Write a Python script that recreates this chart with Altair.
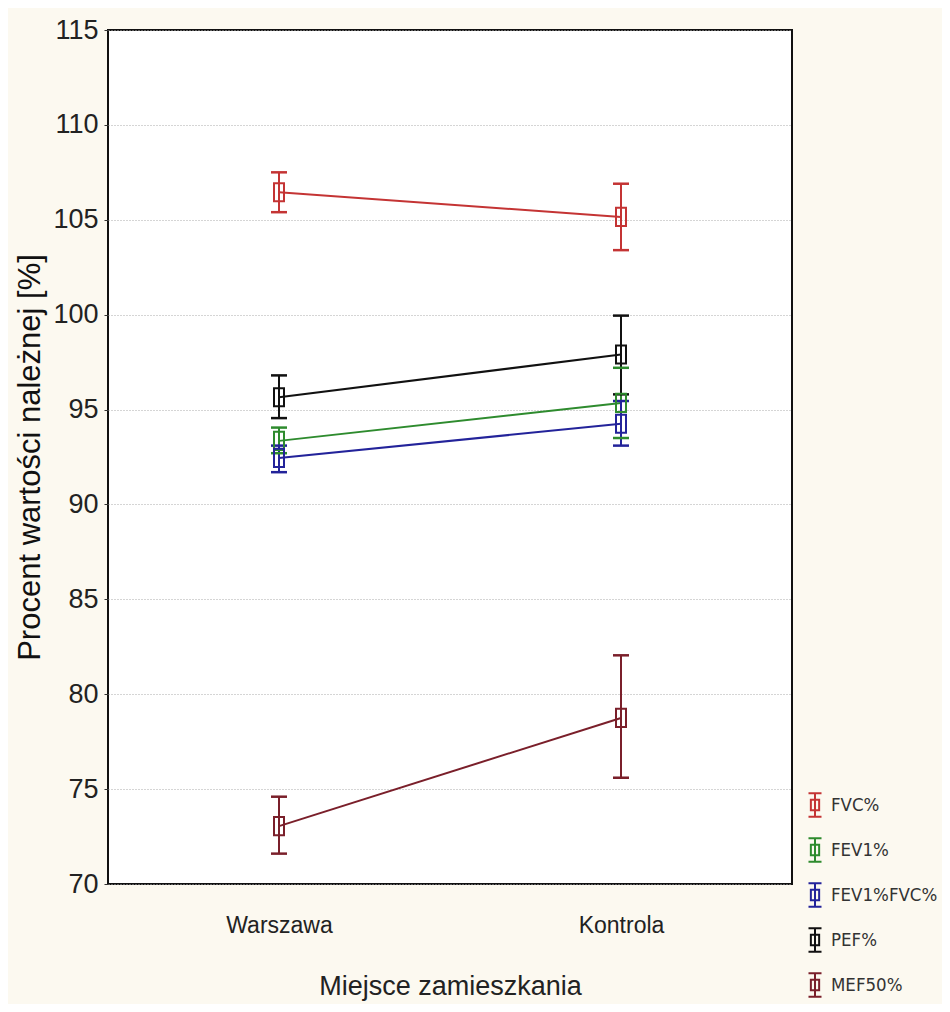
import altair as alt
import pandas as pd

groups = ["Warszawa", "Kontrola"]
series = ["FVC%", "FEV1%", "FEV1%FVC%", "PEF%", "MEF50%"]
colors = ["#c43434", "#2e8b2e", "#23239a", "#111111", "#7a1f2a"]

mean_fvc = [106.45, 105.15]
lo_fvc = [105.4, 103.4]
hi_fvc = [107.5, 106.9]

mean_fev1 = [93.35, 95.35]
lo_fev1 = [92.7, 93.5]
hi_fev1 = [94.05, 97.2]

mean_ratio = [92.45, 94.25]
lo_ratio = [91.7, 93.1]
hi_ratio = [93.1, 95.45]

mean_pef = [95.65, 97.9]
lo_pef = [94.55, 95.8]
hi_pef = [96.8, 99.95]

mean_mef = [73.05, 78.75]
lo_mef = [71.6, 75.6]
hi_mef = [74.6, 82.05]

rows = []
for s, m, lo, hi in zip(series,
                        [mean_fvc, mean_fev1, mean_ratio, mean_pef, mean_mef],
                        [lo_fvc, lo_fev1, lo_ratio, lo_pef, lo_mef],
                        [hi_fvc, hi_fev1, hi_ratio, hi_pef, hi_mef]):
    for g, mv, l, h in zip(groups, m, lo, hi):
        rows.append({"grupa": g, "seria": s, "srednia": mv, "lo": l, "hi": h})
df = pd.DataFrame(rows)

narrow = "DejaVu Sans Condensed, Liberation Sans Narrow, Liberation Sans, Arial"
arial = "Liberation Sans, Arial"

x = alt.X("grupa:N", sort=groups, scale=alt.Scale(type="point", padding=0.5),
          axis=alt.Axis(title="Miejsce zamieszkania", labelAngle=0, labelFont=arial,
                        labelFontSize=23, labelColor="#222", titleFont=arial,
                        titleFontSize=27, titleFontWeight="normal", titleColor="#222",
                        labelPadding=30, titlePadding=36, ticks=False, domain=False))
yscale = alt.Scale(domain=[70, 115], nice=False, zero=False)
y = alt.Y("srednia:Q", scale=yscale,
          axis=alt.Axis(title="Procent wartości należnej [%]", values=list(range(70, 116, 5)),
                        labelFont=arial, labelFontSize=27, labelColor="#222",
                        titleFont=arial, titleFontSize=31, titleFontWeight="normal",
                        titleColor="#111", tickSize=4, tickColor="#333", labelPadding=6,
                        titlePadding=6, domain=False, grid=True, gridDash=[1, 2],
                        gridColor="#aaaaaa", gridWidth=1))
color = alt.Color("seria:N", sort=series, scale=alt.Scale(domain=series, range=colors),
                  legend=alt.Legend(title=None, orient="none", legendX=694, legendY=762,
                                    labelFont=narrow, labelFontSize=18.5, labelColor="#333",
                                    symbolType="M-0.55,-1H0.55M0,-1V1M-0.55,1H0.55M-0.35,-0.45H0.35V0.45H-0.35Z",
                                    symbolSize=560, symbolStrokeWidth=2, symbolFillColor="transparent",
                                    rowPadding=13, labelOffset=3))

base = alt.Chart(df)
line = base.mark_line(strokeWidth=2).encode(x=x, y=y, color=color, detail="seria:N")
rule = base.mark_rule(strokeWidth=2).encode(x=x, y=alt.Y("lo:Q", scale=yscale), y2="hi:Q", color=color)
cap_lo = base.mark_rule(strokeWidth=2.5, xOffset=-8, x2Offset=8).encode(
    x=x, x2="grupa:N", y=alt.Y("lo:Q", scale=yscale), color=color)
cap_hi = base.mark_rule(strokeWidth=2.5, xOffset=-8, x2Offset=8).encode(
    x=x, x2="grupa:N", y=alt.Y("hi:Q", scale=yscale), color=color)
pts = base.mark_point(shape="M-0.55,-1H0.55V1H-0.55Z", size=330, filled=False, strokeWidth=2,
                      opacity=1).encode(x=x, y=y, color=color)

chart = alt.layer(line, rule, cap_lo, cap_hi, pts).properties(
    width=684, height=854,
    autosize=alt.AutoSizeParams(type="none"),
    padding={"left": 100, "top": 22, "right": 150, "bottom": 120},
    background="#fcf9f0",
).configure_view(fill="white", stroke="#111", strokeWidth=2)

chart.save("out.html", embed_options={"renderer": "svg", "actions": False})
